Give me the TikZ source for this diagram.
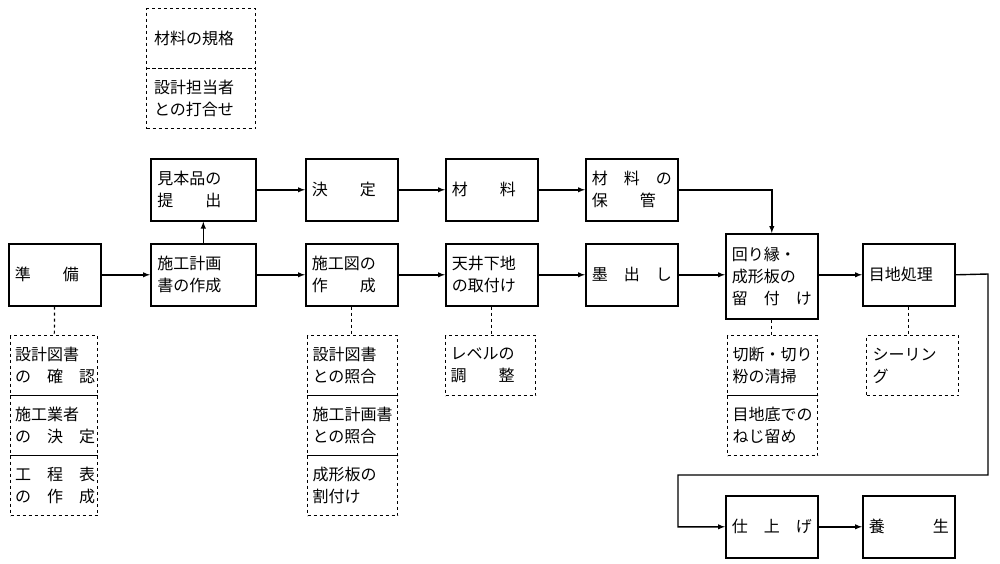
\documentclass[tikz,border=0pt]{standalone}
\usepackage{fontspec}
\setmainfont{Noto Sans CJK JP}
\usetikzlibrary{positioning}
\tikzset{
  box/.style={draw,line width=1.6pt,anchor=north west,minimum width=92pt,minimum height=62pt,
    inner sep=0pt,text width=80pt,align=left,font=\fontsize{16}{22}\selectfont},
  note/.style={box,line width=1.2pt,dash pattern=on 3pt off 3pt,minimum height=60pt},
  flow/.style={line width=1.4pt,-latex},
  tie/.style={line width=1.2pt,dash pattern=on 3pt off 3pt}
}
\begin{document}
\begin{tikzpicture}[x=1pt,y=-1pt]
\useasboundingbox (0,0) rectangle (1000,563);
% main row
\node[box] (prep) at (8,243) {準　　備};
\node[box,minimum width=105pt,text width=92pt] (plan) at (150,243) {施工計画\\書の作成};
\node[box,minimum width=105pt,text width=92pt] (sample) at (150,158) {見本品の\\提　　出};
\node[note,minimum width=109pt,text width=94pt] (spec) at (146,8) {材料の規格};
\node[note,minimum width=109pt,text width=94pt] (meet) at (146,68) {設計担当者\\との打合せ};
\node[box] (decide) at (305,158) {決　　定};
\node[box] (mat) at (445,158) {材　　料};
\node[box] (store) at (585,158) {材　料　の\\保　　管};
\node[box] (shop) at (305,243) {施工図の\\作　　成};
\node[box] (base) at (445,243) {天井下地\\の取付け};
\node[box] (mark) at (585,243) {墨　出　し};
\node[box,minimum height=85pt] (edge) at (725,233) {回り縁・\\成形板の\\留　付　け};
\node[box] (joint) at (862,243) {目地処理};
\node[box] (finish) at (725,495) {仕　上　げ};
\node[box] (cure) at (862,495) {養　　　生};
% notes
\node[note,minimum width=87pt,text width=78pt] (n1) at (10,335) {設計図書\\の　確　認};
\node[note,minimum width=87pt,text width=78pt] (n2) at (10,395) {施工業者\\の　決　定};
\node[note,minimum width=87pt,text width=78pt] (n3) at (10,455) {工　程　表\\の　作　成};
\node[note,minimum width=90pt,text width=80pt] (s1) at (307,335) {設計図書\\との照合};
\node[note,minimum width=90pt,text width=80pt] (s2) at (307,395) {施工計画書\\との照合};
\node[note,minimum width=90pt,text width=80pt] (s3) at (307,455) {成形板の\\割付け};
\node[note,minimum width=90pt,text width=80pt] (lv) at (445,335) {レベルの\\調　　整};
\node[note,minimum width=90pt,text width=80pt] (e1) at (727,335) {切断・切り\\粉の清掃};
\node[note,minimum width=90pt,text width=80pt] (e2) at (727,395) {目地底での\\ねじ留め};
\node[note,minimum width=92pt,text width=80pt] (j1) at (866,335) {シーリン\\グ};
% connectors
\draw[flow] (prep) -- (plan);
\draw[flow] (plan) -- (sample);
\draw[flow] (plan) -- (shop);
\draw[flow] (shop) -- (base);
\draw[flow] (base) -- (mark);
\draw[flow] (mark) -- (mark -| edge.west);
\draw[flow] (edge.east |- joint) -- (joint);
\draw[flow] (sample) -- (decide);
\draw[flow] (decide) -- (mat);
\draw[flow] (mat) -- (store);
\draw[flow] (store) -| (edge);
\draw[flow] (joint.east) -- (988,274) -- (988,475) -- (678,475) |- (finish);
\draw[flow] (finish) -- (cure);
\draw[tie] (prep) -- (n1);
\draw[tie] (shop) -- (s1.north -| shop);
\draw[tie] (base) -- (lv.north -| base);
\draw[tie] (edge) -- (edge |- e1.north);
\draw[tie] (joint) -- (joint |- j1.north);
\end{tikzpicture}
\end{document}
